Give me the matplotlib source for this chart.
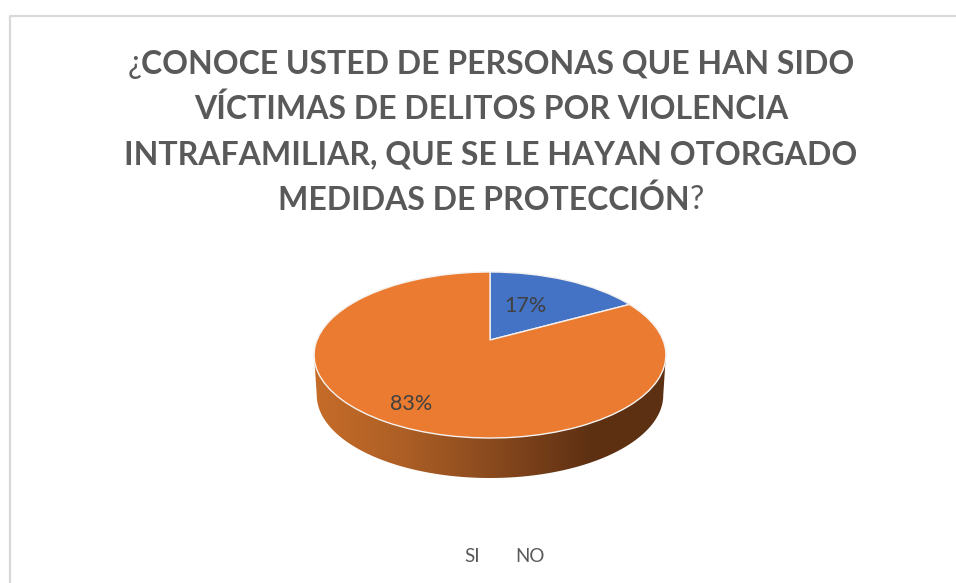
import numpy as np
import matplotlib
matplotlib.use('Agg')
import matplotlib.pyplot as plt
from matplotlib.colors import LinearSegmentedColormap
from matplotlib.patches import Polygon
from matplotlib.transforms import Transform

labels = ['SI', 'NO']
values = [17, 83]
pct_text = ['17%', '83%']
colors = ['#4472C4', '#EA7B30']
title_lines = [
    ('¿', 'CONOCE USTED DE PERSONAS QUE HAN SIDO', ''),
    ('', 'VÍCTIMAS DE DELITOS POR VIOLENCIA', ''),
    ('', 'INTRAFAMILIAR, QUE SE LE HAYAN OTORGADO', ''),
    ('', 'MEDIDAS DE PROTECCIÓN', '?'),
]

# apex of the pie in pixels, and the fake 3d tilt
CX, CY = 490, 340
K = 0.1807
RX, RY = 173, 80.3
DEPTH, SHRINK = 40, 0.985


class Tilt(Transform):
    input_dims = 2
    output_dims = 2

    def transform_non_affine(self, v):
        v = np.asarray(v, dtype=float)
        w = 1 + K * v[:, 1]
        return np.column_stack([CX + RX * v[:, 0] / w, CY - RY * v[:, 1] / w])


fig = plt.figure(figsize=(9.56, 5.83), dpi=100)
ax = fig.add_axes([0, 0, 1, 1])

wedges, _ = ax.pie(values, colors=colors, startangle=90, counterclock=False,
                   wedgeprops={'edgecolor': '#f4f1ee', 'linewidth': 1.0})
tilt = Tilt()
for w in wedges:
    w.set_transform(tilt + ax.transData)
    w.set_zorder(3)

# side wall of the disc, front half only
t = np.linspace(np.pi + np.arcsin(K), 2 * np.pi - np.arcsin(K), 200)
rim = tilt.transform_non_affine(np.column_stack([np.cos(t), np.sin(t)]))
low = rim.copy()
low[:, 0] = CX + (low[:, 0] - CX) * SHRINK
low[:, 1] = low[:, 1] + DEPTH
wall = Polygon(np.vstack([rim, low[::-1]]), closed=True, transform=ax.transData,
               facecolor='none', edgecolor='none')
ax.add_patch(wall)
cmap = LinearSegmentedColormap.from_list('wall', [(0, '#C66C29'), (0.25, '#AD5F25'),
                                                  (0.5, '#8A4A1E'), (0.78, '#5F3113'),
                                                  (1, '#5C3012')])
im = ax.imshow(np.linspace(0, 1, 256).reshape(1, -1), cmap=cmap, aspect='auto',
               extent=[314, 666, 480, 340], zorder=2)
im.set_clip_path(wall)

ax.set_xlim(0, 956)
ax.set_ylim(583, 0)
ax.set_aspect('auto')
ax.axis('off')

# chart frame, only top and left show in the crop
ax.plot([10, 10, 956], [583, 16, 16], color='#D9D9D9', lw=1.6, zorder=1)

# title, bold with plain question marks
grey = '#595959'
FS = 23
line_y = [61, 106.5, 152, 197]
r = fig.canvas.get_renderer()
for (pre, mid, post), y in zip(title_lines, line_y):
    parts = [(pre, 'normal'), (mid, 'bold'), (post, 'normal')]
    items = [ax.text(0, y, s, fontsize=FS, fontweight=b, family='Lato', color=grey,
                     va='center_baseline', ha='left') for s, b in parts if s]
    widths = [i.get_window_extent(r).width for i in items]
    x = 491 - sum(widths) / 2
    for i, wd in zip(items, widths):
        i.set_x(x)
        x += wd

ax.text(525, 306, pct_text[0], fontsize=15.5, family='Lato', color='#404040', ha='center', va='center', zorder=5)
ax.text(411, 404, pct_text[1], fontsize=15.5, family='Lato', color='#404040', ha='center', va='center', zorder=5)

ax.text(472, 556, labels[0], fontsize=13.5, family='Lato', color=grey, ha='center', va='center')
ax.text(530, 556, labels[1], fontsize=13.5, family='Lato', color=grey, ha='center', va='center')

fig.savefig('out.png', dpi=100)
